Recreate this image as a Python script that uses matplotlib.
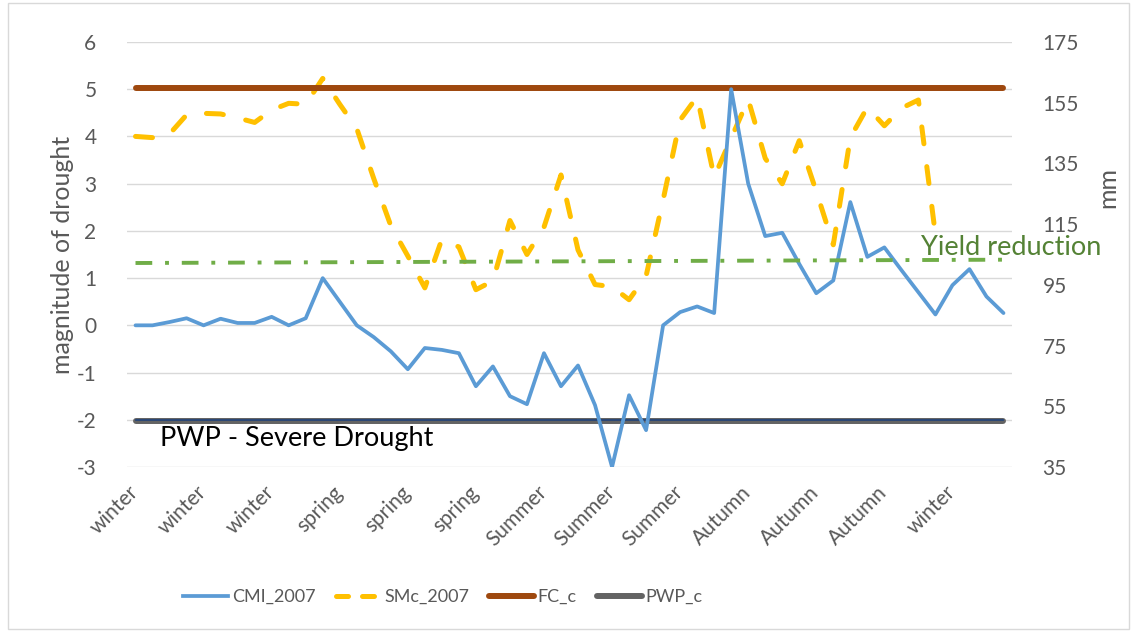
import matplotlib
matplotlib.use("Agg")
import matplotlib.pyplot as plt
import matplotlib.transforms as mtransforms
from matplotlib.lines import Line2D
import numpy as np

plt.rcParams['font.family'] = ['Lato', 'DejaVu Sans']
plt.rcParams['axes.unicode_minus'] = False

# weekly CMI (magnitude of drought)
cmi_2007 = [0.0, 0.0, 0.07, 0.15, 0.0, 0.14, 0.05, 0.05, 0.18, 0.0, 0.15, 1.0, 0.5,
            0.0, -0.25, -0.55, -0.93, -0.48, -0.52, -0.59, -1.29, -0.87, -1.5, -1.67,
            -0.59, -1.29, -0.85, -1.69, -3.0, -1.48, -2.22, 0.0, 0.28, 0.4, 0.26, 5.0,
            3.0, 1.89, 1.96, 1.3, 0.68, 0.95, 2.61, 1.45, 1.65, 1.17, 0.7, 0.23, 0.85,
            1.19, 0.61, 0.26]
# weekly soil moisture (mm), no data for the last weeks
smc_2007 = [143.9, 143.5, 144.7, 151.0, 151.5, 151.3, 150.0, 148.5, 152.6, 154.8,
            154.5, 163.0, 154.5, 146.5, 130.0, 114.5, 104.5, 94.0, 110.0, 107.5,
            93.4, 96.3, 116.2, 105.0, 114.0, 131.2, 106.5, 95.1, 94.4, 90.1, 97.9,
            123.0, 149.3, 157.0, 130.5, 143.3, 156.1, 136.7, 128.3, 142.5, 125.8,
            108.2, 143.5, 153.5, 147.4, 153.2, 155.9, 111.5,
            np.nan, np.nan, np.nan, np.nan]
fc_c = 160.0
pwp_c = 50.0
severe_level = -2.0
yield_start, yield_end = 1.32, 1.39

tick_labels = ['winter', 'winter', 'winter', 'spring', 'spring', 'spring',
               'Summer', 'Summer', 'Summer', 'Autumn', 'Autumn', 'Autumn', 'winter']

weeks = np.arange(len(cmi_2007))
tick_pos = weeks[::4]

grey_txt = '#595959'

fig = plt.figure(figsize=(11.37, 6.32), dpi=100)
ax = fig.add_axes([127 / 1137, 165 / 632, 885 / 1137, 425 / 632])
ax2 = ax.twinx()
# left axis series drawn on top of the right axis ones
ax.set_zorder(ax2.get_zorder() + 1)
ax.patch.set_visible(False)

ax.set_xlim(-0.5, len(weeks) - 0.5)
ax.set_ylim(-3, 6)
ax2.set_ylim(35, 175)

# grid of the left axis, drawn under everything
grid_tr = mtransforms.blended_transform_factory(ax2.transAxes, ax.transData)
for v in range(-3, 7):
    ax2.plot([0, 1], [v, v], transform=grid_tr, color='#D9D9D9', lw=1.0, zorder=0)

# right axis lines
ax2.plot(weeks, smc_2007, color='#FFC000', lw=3.6, dashes=(3.4, 4.6),
         dash_capstyle='round', solid_capstyle='round', label='SMc_2007')
ax2.plot([weeks[0], weeks[-1]], [fc_c, fc_c], color='#9E480E', lw=4.3,
         solid_capstyle='round', label='FC_c')
ax2.plot([weeks[0], weeks[-1]], [pwp_c, pwp_c], color='#636363', lw=4.3,
         solid_capstyle='round', label='PWP_c')

# left axis lines
ax.plot([weeks[0], weeks[-1]], [severe_level, severe_level], color='#264478', lw=1.3)
ax.plot(weeks, cmi_2007, color='#5B9BD5', lw=2.7, solid_joinstyle='round',
        solid_capstyle='round', label='CMI_2007')
ax.plot([weeks[0], weeks[-1]], [yield_start, yield_end], color='#70AD47', lw=2.8,
        dashes=(4.3, 3.3, 1.0, 3.3))

ax.text(1.45, -2.14, 'PWP - Severe Drought', fontsize=19.5, color='black',
        ha='left', va='top')
ax.text(46.15, 1.49, 'Yield reduction', fontsize=19.5, color='#548235',
        ha='left', va='baseline')

ax.set_xticks(tick_pos)
ax.set_xticklabels(tick_labels, rotation=45, ha='right', va='center',
                   rotation_mode='anchor')
ax.set_yticks(range(-3, 7))
ax2.set_yticks(range(35, 176, 20))

for a in (ax, ax2):
    for s in a.spines.values():
        s.set_visible(False)
    a.tick_params(length=0, labelsize=15, labelcolor=grey_txt)
ax.tick_params(axis='y', pad=22)
ax2.tick_params(axis='y', pad=22)
ax.tick_params(axis='x', pad=16)

fig.text(63 / 1137, 1 - 255 / 632, 'magnitude of drought', rotation=90,
         ha='center', va='center', fontsize=18, color=grey_txt)
fig.text(1108 / 1137, 1 - 187 / 632, 'mm', rotation=90,
         ha='center', va='center', fontsize=18, color=grey_txt)

handles = [Line2D([], [], color='#5B9BD5', lw=2.7),
           Line2D([], [], color='#FFC000', lw=3.6, dashes=(2.4, 2.8), dash_capstyle='round'),
           Line2D([], [], color='#9E480E', lw=4.3, solid_capstyle='round'),
           Line2D([], [], color='#636363', lw=4.3, solid_capstyle='round')]
leg = fig.legend(handles, ['CMI_2007', 'SMc_2007', 'FC_c', 'PWP_c'], loc='center',
                 bbox_to_anchor=(443 / 1137, 1 - 597 / 632), ncol=4, frameon=False,
                 fontsize=13, handlelength=2.5, handletextpad=0.2, columnspacing=1.1)
for t in leg.get_texts():
    t.set_color(grey_txt)

# chart border
fig.add_artist(plt.Rectangle((8 / 1137, 0.005), 1 - 16 / 1137, 0.99, transform=fig.transFigure,
                             fill=False, edgecolor='#D9D9D9', lw=1.0))

fig.savefig('out.png', dpi=100)
